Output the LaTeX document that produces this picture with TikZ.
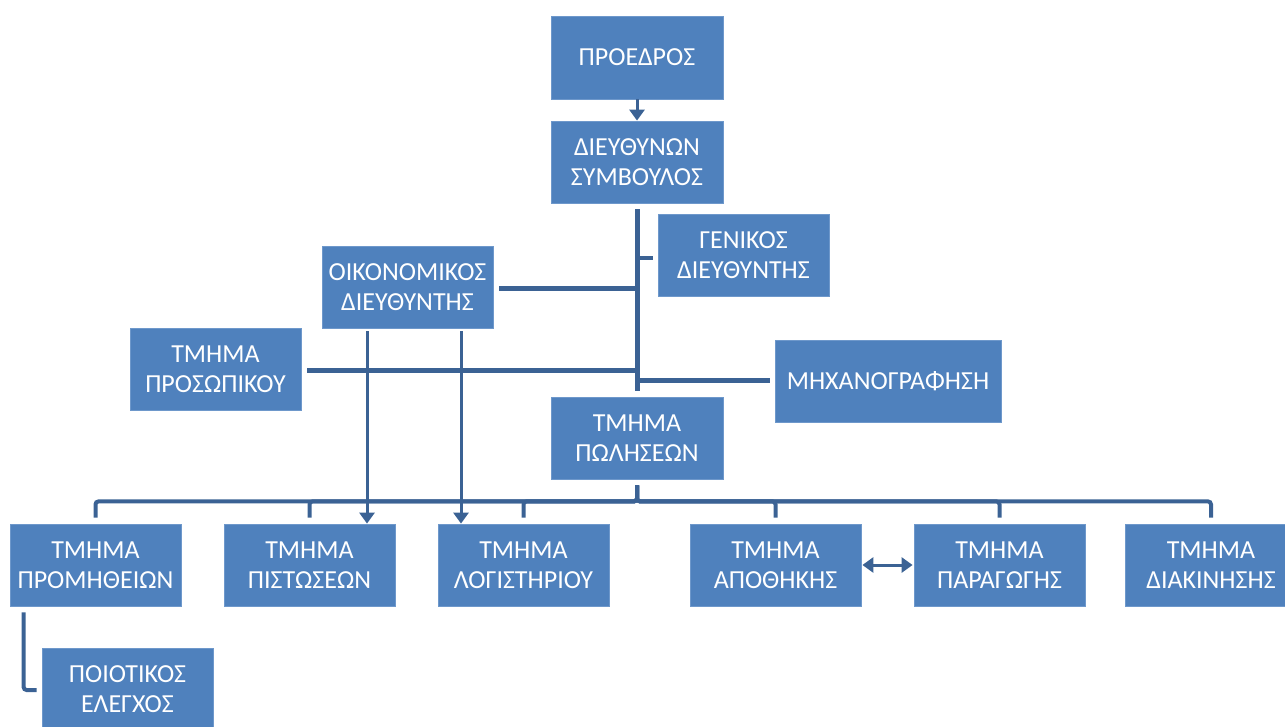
\documentclass[tikz,border=0pt]{standalone}
\usepackage{fontspec}
\setmainfont{Carlito}
\usetikzlibrary{arrows.meta,calc}
\definecolor{boxblue}{HTML}{4F81BD}
\definecolor{boxedge}{HTML}{6E98CB}
\definecolor{linkblue}{HTML}{3B6294}
\tikzset{
  unit/.style={box, minimum width=171pt, minimum height=82pt},
  box/.style={rectangle, fill=boxblue, draw=boxedge, line width=0.8pt, text=white,
    align=center, inner sep=0pt,
    font=\fontsize{26}{30}\selectfont},
  trunk/.style={draw=linkblue, line width=5pt},
  bus/.style={draw=linkblue, line width=4pt, rounded corners=3pt},
  thinarrow/.style={draw=linkblue, line width=3pt,
    -{Triangle[length=11pt,width=15pt]}},
  botharrow/.style={draw=linkblue, line width=3pt,
    {Triangle[length=11pt,width=15pt]}-{Triangle[length=11pt,width=15pt]}},
}
\begin{document}
\begin{tikzpicture}[x=1pt,y=-1pt]
\useasboundingbox (0,0) rectangle (1285,726);
\clip (0,0) rectangle (1285,726);

% boxes
\node[unit, minimum width=172pt, minimum height=83pt] (pre) at (637,57.5) {ΠΡΟΕΔΡΟΣ};
\node[unit, minimum width=172pt] (ceo) at (637,162) {ΔΙΕΥΘΥΝΩΝ\\ΣΥΜΒΟΥΛΟΣ};
\node[unit] (gen) at (743.5,255) {ΓΕΝΙΚΟΣ\\ΔΙΕΥΘΥΝΤΗΣ};
\node[unit] (oik) at (407.5,287) {ΟΙΚΟΝΟΜΙΚΟΣ\\ΔΙΕΥΘΥΝΤΗΣ};
\node[unit] (pros) at (215.5,369) {ΤΜΗΜΑ\\ΠΡΟΣΩΠΙΚΟΥ};
\node[unit, minimum width=226pt] (mech) at (888,381) {ΜΗΧΑΝΟΓΡΑΦΗΣΗ};
\node[unit, minimum width=172pt] (pol) at (637,438) {ΤΜΗΜΑ\\ΠΩΛΗΣΕΩΝ};

\node[unit] (prom) at (95.5,565) {ΤΜΗΜΑ\\ΠΡΟΜΗΘΕΙΩΝ};
\node[unit] (pist) at (309.5,565) {ΤΜΗΜΑ\\ΠΙΣΤΩΣΕΩΝ};
\node[unit] (logi) at (523.5,565) {ΤΜΗΜΑ\\ΛΟΓΙΣΤΗΡΙΟΥ};
\node[unit] (apo) at (775.5,565) {ΤΜΗΜΑ\\ΑΠΟΘΗΚΗΣ};
\node[unit] (par) at (999.5,565) {ΤΜΗΜΑ\\ΠΑΡΑΓΩΓΗΣ};
\node[unit] (diak) at (1211,565) {ΤΜΗΜΑ\\ΔΙΑΚΙΝΗΣΗΣ};
\node[unit] (poi) at (127.5,689) {ΠΟΙΟΤΙΚΟΣ\\ΕΛΕΓΧΟΣ};

% president to chief executive
\draw[thinarrow] (pre) -- (ceo);

% staff trunk below the chief executive
\coordinate (ttop) at ($(ceo.south)+(0,6)$);
\coordinate (tbot) at ($(ceo.south)+(0,188)$);
\draw[trunk] (ttop) -- (tbot);

\coordinate (genend) at ($(gen.west)+(-5,3)$);
\coordinate (oikend) at ($(oik.east)+(6,1)$);
\coordinate (prosend) at ($(pros.east)+(6,1)$);
\coordinate (mechend) at ($(mech.west)+(-5,-1)$);
\draw[draw=linkblue, line width=4pt] (ttop |- genend) -- (genend);
\draw[trunk] (oikend) -- (oikend -| ttop);
\draw[trunk] (prosend) -- (prosend -| ttop);
\draw[trunk] (mechend -| ttop) -- (mechend);

% finance director to credit and accounting
\coordinate (oikleft) at ($(oik.south)+(-40.5,3)$);
\coordinate (oikright) at ($(oik.south)+(53.5,3)$);
\draw[thinarrow] (oikleft) -- (oikleft |- pist.north);
\draw[thinarrow] (oikright) -- (oikright |- logi.north);

% sales department to the departments below
\foreach \dept in {prom,pist,logi,apo,par,diak}{
  \draw[bus, shorten <=6pt, shorten >=6pt] (pol.south) -- ++(0,22) -| (\dept.north);
}

% supplies to quality control
\coordinate (promdrop) at ($(prom.south west)+(14,6)$);
\coordinate (poiend) at ($(poi.west)+(-5,1)$);
\draw[bus] (promdrop) |- (poiend);

% warehouse and production
\draw[botharrow, shorten <=1pt, shorten >=1pt] (apo.east) -- (par.west);
\end{tikzpicture}
\end{document}
